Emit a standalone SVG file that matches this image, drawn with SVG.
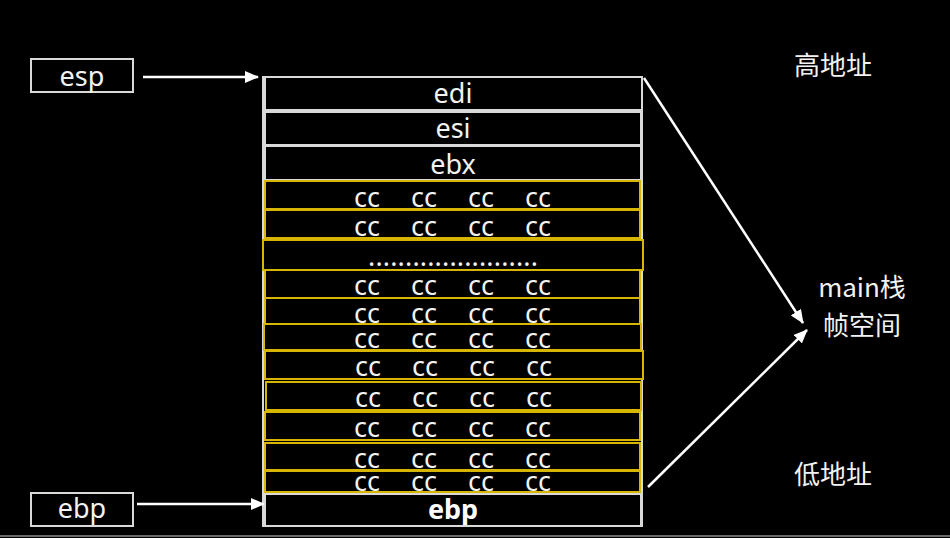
<svg xmlns="http://www.w3.org/2000/svg" width="950" height="538" viewBox="0 0 950 538">
<defs>
<marker id="ah" markerWidth="14" markerHeight="12" refX="13" refY="6" orient="auto" markerUnits="userSpaceOnUse">
<path d="M0,0 L14,6 L0,12 Z" fill="#ffffff"/>
</marker>
<style>
.w{fill:#000;stroke:#d9d9d9;stroke-width:2}
.y{fill:#000;stroke:#d6b600;stroke-width:2}
.t{font-family:"Noto Sans","Noto Sans CJK SC",sans-serif;font-size:27px;fill:#f2f2f2;text-anchor:middle}
.b{font-weight:bold;fill:#ffffff}
.z{font-family:"Noto Sans CJK SC",sans-serif;font-size:26px;fill:#f2f2f2;text-anchor:middle}
.c{stroke:#ffffff;stroke-width:2.5;fill:none}
</style>
</defs>
<rect width="950" height="538" fill="#000"/>
<line x1="0" y1="536" x2="950" y2="536" stroke="#8c8c8c" stroke-width="1.5"/>

<g id="esp-box"><rect class="w" x="31" y="59" width="102" height="33"/><text class="t" x="82" y="86">esp</text></g>
<g id="ebp-box"><rect class="w" x="31" y="493" width="102" height="33"/><text class="t" x="82" y="518">ebp</text></g>

<g id="stack">
<rect x="263" y="77" width="379" height="449" fill="none" stroke="#d9d9d9" stroke-width="2"/>
<g id="edi"><rect class="w" x="265" y="77" width="377" height="33"/><text class="t" x="453" y="103">edi</text></g>
<g id="esi"><rect class="w" x="265" y="112" width="376" height="33"/><text class="t" x="453" y="138">esi</text></g>
<g id="ebx"><rect class="w" x="265" y="146" width="376" height="34"/><text class="t" x="453" y="174">ebx</text></g>
<g id="r1"><rect class="y" x="265" y="181" width="375" height="28"/><text class="t" x="367" y="207">cc</text><text class="t" x="424" y="207">cc</text><text class="t" x="481" y="207">cc</text><text class="t" x="538" y="207">cc</text></g>
<g id="r2"><rect class="y" x="265" y="210" width="375" height="28"/><text class="t" x="367" y="236">cc</text><text class="t" x="424" y="236">cc</text><text class="t" x="481" y="236">cc</text><text class="t" x="538" y="236">cc</text></g>
<g id="dots"><rect class="y" x="263" y="240" width="380" height="30"/><text class="t" x="453" y="266" textLength="170" lengthAdjust="spacing">.......................</text></g>
<g id="r3"><rect class="y" x="265" y="270" width="375" height="28"/><text class="t" x="367" y="295">cc</text><text class="t" x="424" y="295">cc</text><text class="t" x="481" y="295">cc</text><text class="t" x="538" y="295">cc</text></g>
<g id="r4"><rect class="y" x="265" y="298" width="375" height="26"/><text class="t" x="367" y="323">cc</text><text class="t" x="424" y="323">cc</text><text class="t" x="481" y="323">cc</text><text class="t" x="538" y="323">cc</text></g>
<g id="r5"><rect class="y" x="264" y="324" width="377" height="26"/><text class="t" x="367" y="348">cc</text><text class="t" x="424" y="348">cc</text><text class="t" x="481" y="348">cc</text><text class="t" x="538" y="348">cc</text></g>
<g id="r6"><rect class="y" x="265" y="351" width="378" height="28"/><text class="t" x="368" y="376">cc</text><text class="t" x="425" y="376">cc</text><text class="t" x="482" y="376">cc</text><text class="t" x="539" y="376">cc</text></g>
<g id="r7"><rect class="y" x="266" y="382" width="375" height="28"/><text class="t" x="368" y="407">cc</text><text class="t" x="425" y="407">cc</text><text class="t" x="482" y="407">cc</text><text class="t" x="539" y="407">cc</text></g>
<g id="r8"><rect class="y" x="265" y="412" width="375" height="28"/><text class="t" x="367" y="437">cc</text><text class="t" x="424" y="437">cc</text><text class="t" x="481" y="437">cc</text><text class="t" x="538" y="437">cc</text></g>
<g id="r9"><rect class="y" x="265" y="443" width="375" height="27"/><text class="t" x="367" y="468">cc</text><text class="t" x="424" y="468">cc</text><text class="t" x="481" y="468">cc</text><text class="t" x="538" y="468">cc</text></g>
<g id="r10"><rect class="y" x="265" y="471" width="375" height="21"/><text class="t" x="367" y="491">cc</text><text class="t" x="424" y="491">cc</text><text class="t" x="481" y="491">cc</text><text class="t" x="538" y="491">cc</text></g>
<g id="ebp"><rect class="w" x="265" y="494" width="376" height="32"/><text class="t b" x="453" y="519">ebp</text></g>
</g>

<g id="labels">
<text class="z" x="833" y="75">高地址</text>
<text class="z" x="862" y="297">main栈</text>
<text class="z" x="862" y="335">帧空间</text>
<text class="z" x="833" y="484">低地址</text>
</g>

<g id="connectors">
<line class="c" x1="143" y1="77" x2="258" y2="77" marker-end="url(#ah)"/>
<line class="c" x1="137" y1="504" x2="264" y2="504" marker-end="url(#ah)"/>
<line class="c" x1="644" y1="78" x2="803" y2="323" marker-end="url(#ah)"/>
<line class="c" x1="648" y1="487" x2="807" y2="330" marker-end="url(#ah)"/>
</g>
</svg>
